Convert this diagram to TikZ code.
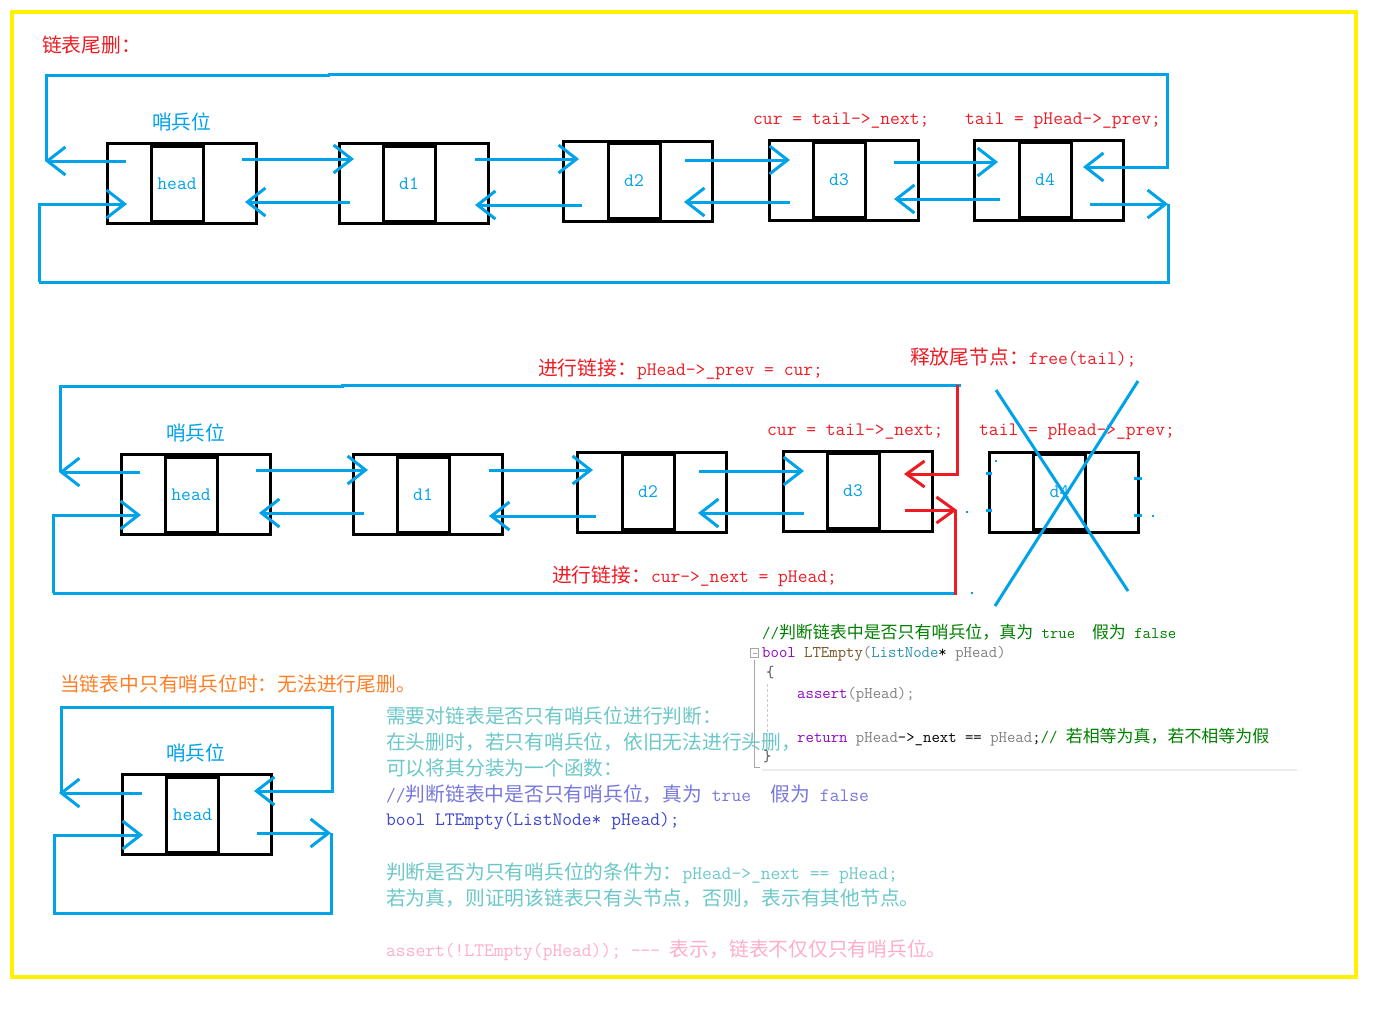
\documentclass[tikz,border=0pt]{standalone}
\usepackage{fontspec}
\newfontfamily\cjk[Scale=1.04]{Noto Sans CJK SC}
\usetikzlibrary{arrows.meta}
\definecolor{pblue}{HTML}{00A2E8}
\definecolor{pred}{HTML}{ED1C24}
\definecolor{pyellow}{HTML}{FFF200}
\definecolor{porange}{HTML}{FF7F27}
\definecolor{pteal}{HTML}{6CC8C8}
\definecolor{plav}{HTML}{7878DC}
\definecolor{pindigo}{HTML}{3F48CC}
\definecolor{ppink}{HTML}{FFAEC9}
\definecolor{cgreen}{HTML}{008000}
\definecolor{ckey}{HTML}{8F08C4}
\definecolor{cfunc}{HTML}{74531F}
\definecolor{ctype}{HTML}{2B91AF}
\definecolor{cparam}{HTML}{808080}
\newcommand\zh[1]{{\cjk #1}}
\tikzset{
 outerbox/.style={draw=black, line width=3pt, minimum width=149pt, minimum height=80pt, inner sep=0pt},
 midbox/.style={draw=black, line width=3pt, minimum width=52pt, minimum height=75pt, inner sep=0pt, text=pblue, font=\ttfamily\fontsize{19}{20}\selectfont},
 link/.style={pblue, line width=3pt, -{Straight Barb[length=18pt,width=28pt]}},
 wire/.style={pblue, line width=3pt},
 rlink/.style={pred, line width=3pt, -{Straight Barb[length=18pt,width=26pt]}},
 rwire/.style={pred, line width=3pt},
 lbl/.style={anchor=west, inner sep=0pt, font=\ttfamily\fontsize{19}{20}\selectfont},
 code/.style={anchor=west, inner sep=0pt, font=\ttfamily\fontsize{16.3}{18}\selectfont},
}
\newcommand\rowcore[1]{%
 \node[outerbox] (h#1) at (181.5,183) {};
 \node[midbox] (hm#1) at (177,183.5) {head};
 \node[outerbox] (da#1) at (413.5,183) {};
 \node[midbox] (dam#1) at (409,183.5) {d1};
 \node[outerbox] (db#1) at (638,181) {};
 \node[midbox] (dbm#1) at (634,181) {d2};
 \node[outerbox] (dc#1) at (843.5,180) {};
 \node[midbox] (dcm#1) at (839,180) {d3};
 \node[lbl, text=pblue] (sb#1) at (152,122) {\zh{哨兵位}};
 \draw[link] (126,161) -- (45,161);
 \draw[wire] (46,161) -- (46,75) -- (328,75) -- (328,74);
 \draw[link] (39,282) -- (39,204) -- (127,204);
 \draw[link] (242,159) -- (354,159);
 \draw[link] (350,202) -- (245,202);
 \draw[link] (475,159) -- (579,159);
 \draw[link] (582,205) -- (475,205);
 \draw[link] (685,160) -- (790,160);
 \draw[link] (790,202) -- (684,202);
}
\begin{document}
\begin{tikzpicture}[x=1pt,y=-1pt]
\useasboundingbox (0,0) rectangle (1375,1026);
\fill[white] (0,0) rectangle (1375,1026);
\draw[pyellow, line width=3.5pt] (12,12) rectangle (1356,977);

% ---------- row 1 ----------
\node[lbl, text=pred] (title1) at (42,45) {\zh{链表尾删：}};
\rowcore{a}
\node[outerbox] (dda) at (1049,180) {};
\node[midbox] (ddma) at (1045,180) {d4};
\draw[link] (328,74) -- (1167,74) -- (1167,167) -- (1083,167);
\draw[link] (894,162) -- (998,162);
\draw[link] (1000,199) -- (894,199);
\draw[link] (1090,204) -- (1168,204);
\draw[wire] (1168,204) -- (1168,282) -- (39,282);
\node[lbl, text=pred] (cur1) at (753,121) {cur = tail->\_next;};
\node[lbl, text=pred] (tail1) at (965,121) {tail = pHead->\_prev;};

% ---------- row 2 ----------
\begin{scope}[shift={(14,311)}]
\rowcore{b}
\end{scope}
\draw[wire] (342,386) -- (342,385) -- (961,385);
\draw[wire] (955,593) -- (53,593);
\draw[rlink] (957,385) -- (957,474) -- (904,474);
\draw[rlink] (905,510) -- (957,510);
\draw[rwire] (955,510) -- (955,595);
\node[lbl, text=pred] (link1) at (538,369) {\zh{进行链接：}pHead->\_prev = cur;};
\node[lbl, text=pred] (free1) at (910,357) {\zh{释放尾节点：}free(tail);};
\node[lbl, text=pred] (cur2) at (767,432) {cur = tail->\_next;};
\node[lbl, text=pred] (tail2) at (979,432) {tail = pHead->\_prev;};
\node[lbl, text=pred] (link2) at (552,576) {\zh{进行链接：}cur->\_next = pHead;};
\node[outerbox] (ddb) at (1063.5,492) {};
\node[midbox] (ddmb) at (1059.5,492) {d4};
\draw[wire] (986,473) -- (992,473);
\draw[wire] (986,510) -- (992,510);
\draw[wire] (1134,478) -- (1142,478);
\draw[wire] (1134,515) -- (1142,515);
\fill[pblue] (966,511) rectangle +(2,2);
\fill[pblue] (971,592) rectangle +(2,2);
\fill[pblue] (1152,515) rectangle +(2,2);
\fill[pblue] (995,460) rectangle +(2,2);
\draw[wire] (996,390) -- (1128,591);
\draw[wire] (1138,381) -- (995,606);

% ---------- row 3 ----------
\node[lbl, text=porange] (title3) at (60,684) {\zh{当链表中只有哨兵位时：无法进行尾删。}};
\node[outerbox] (hc) at (196.5,814) {};
\node[midbox] (hmc) at (192.5,814.5) {head};
\node[lbl, text=pblue] (sbc) at (166,753) {\zh{哨兵位}};
\draw[link] (142,793) -- (59,793);
\draw[link] (61,793) -- (61,707) -- (332,707) -- (332,791) -- (254,791);
\draw[link] (257,833) -- (331,833);
\draw[link] (331,833) -- (331,913) -- (54,913) -- (54,835) -- (143,835);

% ---------- notes ----------
\node[lbl, text=pteal] (n1) at (386,716) {\zh{需要对链表是否只有哨兵位进行判断：}};
\node[lbl, text=pteal] (n2) at (386,742) {\zh{在头删时，若只有哨兵位，依旧无法进行头删，}};
\node[lbl, text=pteal] (n3) at (386,768) {\zh{可以将其分装为一个函数：}};
\node[lbl, text=plav] (n4) at (386,794) {//\zh{判断链表中是否只有哨兵位，真为} true\ \ \zh{假为} false};
\node[lbl, text=pindigo] (n5) at (386,821) {bool LTEmpty(ListNode* pHead);};
\node[lbl, text=pteal] (n6) at (386,873) {\zh{判断是否为只有哨兵位的条件为：}pHead->\_next == pHead;};
\node[lbl, text=pteal] (n7) at (386,898) {\zh{若为真，则证明该链表只有头节点，否则，表示有其他节点。}};
\node[lbl, text=ppink] (n8) at (386,950) {assert(!LTEmpty(pHead)); -{}-{}- \zh{表示，链表不仅仅只有哨兵位。}};

% ---------- code block ----------
\draw[gray!70, line width=0.8pt] (750.5,648.5) rectangle (758.5,657.5);
\draw[gray!70, line width=0.8pt] (752.5,653) -- (756.5,653);
\draw[gray!70, line width=1pt] (754.5,660) -- (754.5,767) -- (760,767);
\draw[gray!40, line width=0.8pt, dash pattern=on 3pt off 2pt] (767,684) -- (767,745);
\draw[gray!15, line width=2pt] (762,770) -- (1297,770);
\node[code, text=cgreen] (c1) at (762,632) {//\zh{判断链表中是否只有哨兵位，真为} true\ \ \zh{假为} false};
\node[code] (c2) at (762,654) {\textcolor{ckey}{bool} \textcolor{cfunc}{LTEmpty}\textcolor{cparam}{(}\textcolor{ctype}{ListNode}* \textcolor{cparam}{pHead)}};
\node[code, text=black!70] (c3) at (766,673) {\{};
\node[code] (c4) at (797,695) {\textcolor{ckey}{assert}\textcolor{cparam}{(pHead);}};
\node[code] (c5) at (797,737) {\textcolor{ckey}{return} \textcolor{cparam}{pHead}->\_next == \textcolor{cparam}{pHead};\textcolor{cgreen}{// \zh{若相等为真，若不相等为假}}};
\node[code, text=black!70] (c6) at (763,757) {\}};
\end{tikzpicture}
\end{document}
